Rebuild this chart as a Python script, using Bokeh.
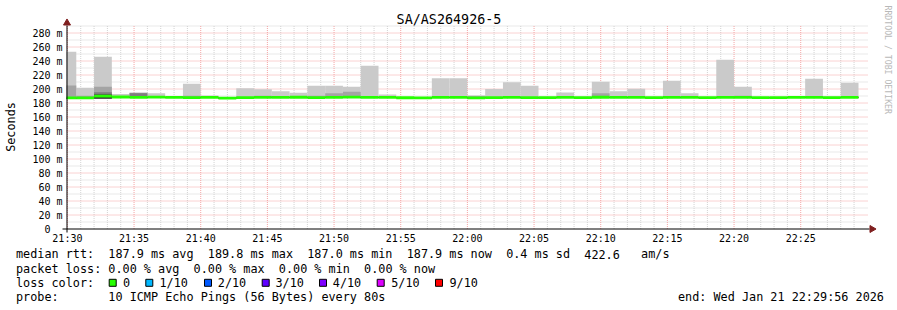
import math
from datetime import datetime, timedelta

from bokeh.plotting import figure
from bokeh.models import Range1d
from bokeh.core.properties import value
from bokeh.embed import file_html
from bokeh.resources import INLINE

# ---------------- data ----------------
chart_title = "SA/AS264926-5"
y_axis_title = "Seconds"
watermark = "RRDTOOL / TOBI OETIKER"

graph_start = datetime(2026, 1, 21, 21, 29, 56)
graph_end = datetime(2026, 1, 21, 22, 29, 56)
first_step_start = datetime(2026, 1, 21, 21, 29, 20)
step_seconds = 80

x_tick_labels = ["21:30", "21:35", "21:40", "21:45", "21:50", "21:55",
                 "22:00", "22:05", "22:10", "22:15", "22:20", "22:25"]
y_tick_values = [0, 20, 40, 60, 80, 100, 120, 140, 160, 180, 200, 220, 240, 260, 280]
y_tick_labels = ["0", "20 m", "40 m", "60 m", "80 m", "100 m", "120 m", "140 m",
                 "160 m", "180 m", "200 m", "220 m", "240 m", "260 m", "280 m"]
y_top = 290

# median rtt per 80 s step (ms)
rtt_median = [187.2, 187.3, 189.8, 188.6, 188.1, 188.3, 187.9, 187.8, 188.0, 187.0,
              187.6, 187.9, 188.0, 188.2, 187.8, 188.1, 188.4, 187.9, 188.0, 187.5,
              187.4, 187.9, 188.0, 187.3, 187.8, 188.0, 187.6, 187.7, 187.9, 187.6,
              188.2, 187.9, 188.0, 187.7, 187.9, 188.0, 187.6, 187.9, 188.1, 187.7,
              187.8, 188.0, 187.9, 187.8, 187.9]
# sorted ping values (ms): max (p10) .. p6 and min (p1)
rtt_max = [253.3, 201.9, 246.1, 193.0, 194.7, 193.8, 189.6, 207.6, 190.6, 188.0,
           201.0, 199.5, 196.7, 194.8, 204.7, 204.7, 203.3, 233.3, 192.0, 188.4,
           188.3, 215.2, 215.2, 190.5, 200.0, 209.5, 204.7, 189.0, 195.0, 189.0,
           210.5, 196.7, 200.5, 189.0, 211.9, 193.8, 188.5, 241.9, 203.3, 188.5,
           188.6, 189.2, 214.7, 189.2, 208.9]
rtt_p9 = [205.0, 190.5, 203.3, 188.9, 194.7, 188.8, 188.3, 190.5, 188.4, 187.4,
          188.0, 190.5, 188.4, 188.6, 190.5, 193.8, 196.0, 188.3, 188.4, 187.9,
          187.8, 188.3, 188.4, 190.3, 188.2, 188.4, 188.0, 188.1, 188.3, 188.0,
          193.8, 188.3, 188.4, 188.1, 188.3, 188.4, 188.0, 188.3, 190.5, 188.1,
          188.2, 188.4, 190.0, 188.2, 188.3]
rtt_p8 = [187.5, 187.6, 195.2, 188.9, 194.0, 188.6, 188.2, 188.1, 188.3, 187.3,
          187.9, 188.2, 188.3, 188.5, 188.1, 188.4, 188.7, 188.2, 188.3, 187.8,
          187.7, 188.2, 188.3, 187.6, 188.1, 188.3, 187.9, 188.0, 188.2, 187.9,
          188.5, 188.2, 188.3, 188.0, 188.2, 188.3, 187.9, 188.2, 188.4, 188.0,
          188.1, 188.3, 188.2, 188.1, 188.2]
rtt_p7 = [187.4, 187.5, 192.9, 188.8, 188.3, 188.5, 188.1, 188.0, 188.2, 187.2,
          187.8, 188.1, 188.2, 188.4, 188.0, 188.3, 188.6, 188.1, 188.2, 187.7,
          187.6, 188.1, 188.2, 187.5, 188.0, 188.2, 187.8, 187.9, 188.1, 187.8,
          188.4, 188.1, 188.2, 187.9, 188.1, 188.2, 187.8, 188.1, 188.3, 187.9,
          188.0, 188.2, 188.1, 188.0, 188.1]
rtt_p6 = [187.3, 187.4, 191.6, 188.7, 188.2, 188.4, 188.0, 187.9, 188.1, 187.1,
          187.7, 188.0, 188.1, 188.3, 187.9, 188.2, 188.5, 188.0, 188.1, 187.6,
          187.5, 188.0, 188.1, 187.4, 187.9, 188.1, 187.7, 187.8, 188.0, 187.7,
          188.3, 188.0, 188.1, 187.8, 188.0, 188.1, 187.7, 188.0, 188.2, 187.8,
          187.9, 188.1, 188.0, 187.9, 188.0]
rtt_min = [186.4, 186.5, 186.3, 187.8, 187.3, 187.5, 187.1, 187.0, 187.2, 186.2,
           186.8, 187.1, 187.2, 187.4, 187.0, 187.3, 187.6, 187.1, 187.2, 186.7,
           186.6, 187.1, 187.2, 186.5, 187.0, 187.2, 186.8, 186.9, 187.1, 186.8,
           187.4, 187.1, 187.2, 186.9, 187.1, 187.2, 186.8, 187.1, 187.3, 186.9,
           187.0, 187.2, 187.1, 187.0, 187.1]

smoke_colors = ["#cacaca", "#a4a4a4", "#7e7e7e", "#585858", "#323232"]
median_color = "#26ff00"

loss_labels = ["0", "1/10", "2/10", "3/10", "4/10", "5/10", "9/10"]
loss_colors = ["#26ff00", "#00b8ff", "#0059ff", "#5e00ff", "#7e00ff", "#dd00ff", "#ff0000"]

legend_rtt = [(0, "median rtt:"), (13, "187.9 ms avg"), (27, "189.8 ms max"),
              (41, "187.0 ms min"), (55, "187.9 ms now"), (69, "0.4 ms sd"),
              (80, "422.6"), (88, "am/s")]
legend_loss = [(0, "packet loss:"), (13, "0.00 % avg"), (25, "0.00 % max"),
               (37, "0.00 % min"), (49, "0.00 % now")]
legend_color_title = "loss color:"
legend_probe = [(0, "probe:"), (13, "10 ICMP Echo Pings (56 Bytes) every 80s")]
legend_end = "end: Wed Jan 21 22:29:56 2026"

# ---------------- layout (pixels of the 897x310 canvas) ----------------
W, H = 897, 310
AREA_LEFT, AREA_W = 66, 800          # graph_start .. graph_end
ZERO_Y, PX_PER_MS = 228.5, 0.7       # value 0 row, vertical scale
MONO = "DejaVu Sans Mono"
EPOCH = datetime(1970, 1, 1)


def ms(dt):
    return (dt - EPOCH).total_seconds() * 1000.0


X0, X1 = ms(graph_start), ms(graph_end)


def px2x(px):
    return X0 + (px - AREA_LEFT) * (X1 - X0) / AREA_W


def py2y(py):
    return (ZERO_Y - py) / PX_PER_MS


p = figure(width=W, height=H, output_backend="svg", toolbar_location=None,
           x_range=Range1d(px2x(0), px2x(W)), y_range=Range1d(py2y(H), py2y(0)),
           min_border=0, x_axis_location=None, y_axis_location=None)
try:
    p.title_location = None
except Exception:
    p.title.visible = False
p.grid.visible = False
p.outline_line_color = None
p.background_fill_color = "white"
p.border_fill_color = "white"

# ---------------- grid ----------------
day = graph_start.date()
x_major = [ms(datetime.combine(day, datetime.strptime(t, "%H:%M").time())) for t in x_tick_labels]
x_minor = []
t = ms(datetime(2026, 1, 21, 21, 30))
while t < X1:
    if t not in x_major:
        x_minor.append(t)
    t += 60000
y_minor = [v for v in range(10, y_top + 1, 10) if v not in y_tick_values]
y_major = [v for v in y_tick_values if v > 0]
grid_right = px2x(AREA_LEFT + AREA_W + 1)

minor_col, major_col = "#d2d2d2", "#f4a4a4"
p.segment(x0=x_minor, y0=[0] * len(x_minor), x1=x_minor, y1=[y_top] * len(x_minor),
          line_color=minor_col, line_width=1, line_dash="1 1")
p.segment(x0=[X0] * len(y_minor), y0=y_minor, x1=[grid_right] * len(y_minor), y1=y_minor,
          line_color=minor_col, line_width=1, line_dash="1 1")
p.segment(x0=x_major, y0=[0] * len(x_major), x1=x_major, y1=[y_top] * len(x_major),
          line_color=major_col, line_width=1, line_dash="1 1")
p.segment(x0=[X0] * len(y_major), y0=y_major, x1=[grid_right] * len(y_major), y1=y_major,
          line_color=major_col, line_width=1, line_dash="1 1")

# ---------------- smoke ----------------
n = len(rtt_median)
starts = [first_step_start + timedelta(seconds=step_seconds * i) for i in range(n)]
lefts = [ms(max(s, graph_start)) for s in starts]
rights = [ms(s + timedelta(seconds=step_seconds)) for s in starts]

for color, tops in zip(smoke_colors, [rtt_max, rtt_p9, rtt_p8, rtt_p7, rtt_p6]):
    p.quad(left=lefts, right=rights, bottom=rtt_min, top=tops,
           fill_color=color, line_color=None)

band = 2.0
p.quad(left=lefts, right=rights,
       bottom=[m - band for m in rtt_median], top=[m + band for m in rtt_median],
       fill_color=median_color, line_color=None)

# ---------------- axes ----------------
axis_x = px2x(AREA_LEFT + 0.5)
arrow_col = "#7f1f1f"
p.segment(x0=[px2x(62), axis_x], y0=[0, py2y(232)], x1=[px2x(869), axis_x], y1=[0, py2y(25)],
          line_color="black", line_width=1)
p.scatter(x=[px2x(871.5), axis_x], y=[0, py2y(22.5)], marker="triangle", size=7,
          angle=[-math.pi / 2, 0.0], fill_color=arrow_col, line_color=arrow_col)

p.text(x=[px2x(62)] * len(y_tick_values), y=y_tick_values, text=y_tick_labels,
       x_offset=[0 if lab != "0" else -12 for lab in y_tick_labels],
       text_font=value(MONO), text_font_size=value("10px"), text_color="black",
       text_align="right", text_baseline="middle")
p.text(x=x_major, y=[py2y(237.7)] * len(x_major), text=x_tick_labels,
       text_font=value(MONO), text_font_size=value("10px"), text_color="black",
       text_align="center", text_baseline="middle")
p.text(x=[px2x(10.5)], y=[py2y(126.5)], text=[y_axis_title], angle=math.pi / 2,
       text_font=value(MONO), text_font_size=value("11.8px"), text_color="black",
       text_align="center", text_baseline="middle")

# ---------------- title / watermark ----------------
p.text(x=[px2x(448.5)], y=[py2y(19.0)], text=[chart_title],
       text_font=value(MONO), text_font_size=value("13.4px"), text_color="black",
       text_align="center", text_baseline="middle")
p.text(x=[px2x(887.5)], y=[py2y(5)], text=[watermark], angle=-math.pi / 2,
       text_font=value(MONO), text_font_size=value("8.2px"), text_color="#b8b8b8",
       text_align="left", text_baseline="middle")

# ---------------- legend ----------------
CW = 0.602 * 11.8
LX = 15.5
rows = [253.7, 268.0, 282.2, 296.3]   # text centres of the four legend lines
lx, ly, lt = [], [], []
for row, items in ((rows[0], legend_rtt), (rows[1], legend_loss), (rows[3], legend_probe)):
    for col, s in items:
        lx.append(px2x(LX + col * CW))
        ly.append(py2y(row))
        lt.append(s)
lx.append(px2x(LX)); ly.append(py2y(rows[2])); lt.append(legend_color_title)
lab_px = [122.5, 159.0, 217.3, 275.0, 332.3, 390.7, 449.0]
for px, s in zip(lab_px, loss_labels):
    lx.append(px2x(px)); ly.append(py2y(rows[2])); lt.append(s)
p.text(x=lx, y=ly, text=lt, text_font=value(MONO), text_font_size=value("11.8px"),
       text_color="black", text_align="left", text_baseline="middle")
p.text(x=[px2x(677.5)], y=[py2y(rows[3])], text=[legend_end],
       text_font=value(MONO), text_font_size=value("11.8px"), text_color="black",
       text_align="left", text_baseline="middle")

box_px = [108.7, 145.3, 204.0, 261.7, 319.0, 376.7, 435.0]
p.quad(left=[px2x(b) for b in box_px], right=[px2x(b + 7) for b in box_px],
       top=[py2y(278.8)] * len(box_px), bottom=[py2y(285.8)] * len(box_px),
       fill_color=loss_colors, line_color="black", line_width=1)

open("out.html", "w").write(file_html(p, INLINE))
